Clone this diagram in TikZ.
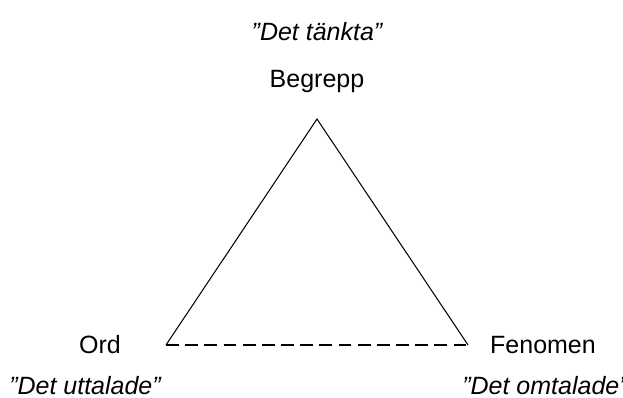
\documentclass[tikz,border=0pt]{standalone}
\usepackage{fontspec}
\setmainfont{Liberation Sans}
\usepackage{tikz}

\tikzset{label/.style={font=\fontsize{12}{14}\selectfont, inner sep=0pt}}
\tikzset{quote/.style={label, font=\fontsize{12}{14}\selectfont\itshape}}

\begin{document}
\begin{tikzpicture}[x=0.48pt, y=-0.48pt, line width=0.5pt]
\useasboundingbox (0, 0) rectangle (623, 398);

\coordinate (top) at (317, 119);
\coordinate (left) at (166, 345);
\coordinate (right) at (468, 345);

\draw (left) -- (top) -- (right);
\draw[dash pattern=on 6.2pt off 3pt] (left) -- (right);

\node[quote] (thought) at (317, 32) {”Det tänkta”};
\node[label] (concept) at (317, 82) {Begrepp};
\node[label] (word) at (100, 345) {Ord};
\node[label] (phenomenon) at (543, 345) {Fenomen};
\node[quote] (uttered) at (85, 386) {”Det uttalade”};
\node[quote] (spoken) at (545, 386) {”Det omtalade”};
\end{tikzpicture}
\end{document}
